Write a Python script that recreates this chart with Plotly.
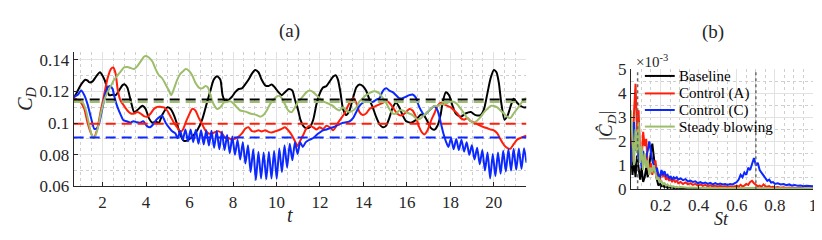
import plotly.graph_objects as go

W, H = 822, 240
def px(x): return x / W
def py(y): return 1 - y / H

# ---------------- Panel (a): drag coefficient time series ----------------
t_base = [0.67,0.80,0.95,1.09,1.20,1.30,1.40,1.54,1.70,1.88,2.00,2.10,2.20,2.30,2.46,2.60,2.75,2.91,3.02,3.14,
          3.30,3.45,3.60,3.83,3.98,4.13,4.29,4.44,4.59,4.74,4.97,5.13,5.28,5.43,5.58,5.73,5.85,6.00,6.12,6.35,
          6.58,6.80,6.96,7.11,7.27,7.42,7.52,7.65,7.80,7.95,8.10,8.26,8.41,8.56,8.71,8.87,9.02,9.17,9.32,9.48,
          9.63,9.78,9.93,10.09,10.24,10.39,10.57,10.73,10.85,11.00,11.10,11.23,11.38,11.53,11.69,11.84,11.99,12.14,12.30,12.45,
          12.60,12.72,12.83,12.94,13.06,13.21,13.36,13.52,13.67,13.82,13.97,14.12,14.28,14.43,14.58,14.74,14.89,15.04,15.19,15.35,
          15.50,15.65,15.80,15.96,16.19,16.34,16.49,16.65,16.80,16.95,17.10,17.26,17.41,17.56,17.64,17.79,17.94,18.10,18.25,18.48,
          18.70,18.94,19.16,19.39,19.55,19.70,19.85,20.00,20.12,20.23,20.34,20.49,20.64,20.80,20.91,21.07,21.22,21.37,21.50]
cd_base = [0.1160,0.1190,0.1230,0.1259,0.1275,0.1270,0.1258,0.1264,0.1295,0.1322,0.1300,0.1270,0.1225,0.1177,0.1180,0.1177,0.1205,0.1239,0.1245,0.1225,
           0.1138,0.1070,0.1083,0.1110,0.1090,0.1032,0.1003,0.1010,0.1003,0.1051,0.1100,0.1090,0.1051,0.0992,0.0925,0.0890,0.0888,0.0900,0.0915,0.0954,
           0.1022,0.1129,0.1206,0.1274,0.1297,0.1274,0.1177,0.1138,0.1148,0.1167,0.1196,0.1216,0.1220,0.1245,0.1274,0.1313,0.1336,0.1322,0.1274,0.1239,
           0.1235,0.1245,0.1225,0.1196,0.1177,0.1196,0.1216,0.1206,0.1148,0.1080,0.1022,0.0983,0.0968,0.0974,0.1022,0.1119,0.1187,0.1225,0.1235,0.1264,
           0.1293,0.1303,0.1274,0.1196,0.1090,0.1051,0.1080,0.1158,0.1225,0.1245,0.1235,0.1206,0.1148,0.1100,0.1041,0.0993,0.0974,0.0983,0.1032,0.1100,
           0.1129,0.1100,0.1051,0.1013,0.1003,0.1013,0.1032,0.1055,0.1045,0.1010,0.0970,0.0958,0.0985,0.1060,0.1129,0.1196,0.1177,0.1109,0.1060,0.1041,
           0.1061,0.1070,0.1051,0.1051,0.1090,0.1187,0.1284,0.1336,0.1322,0.1255,0.1129,0.1022,0.1051,0.1119,0.1154,0.1129,0.1110,0.1100,0.1100]

t_ctrlA = [0.67,0.80,0.95,1.05,1.16,1.31,1.47,1.59,1.74,1.92,2.08,2.23,2.38,2.49,2.60,2.69,2.78,2.84,2.99,3.14,
           3.30,3.45,3.60,3.75,3.90,4.06,4.21,4.36,4.52,4.67,4.82,4.97,5.13,5.28,5.43,5.58,5.70,5.82,5.97,6.12,
           6.27,6.43,6.58,6.73,6.88,7.04,7.19,7.34,7.49,7.65,7.80,7.95,8.10,8.26,8.41,8.56,8.71,8.87,9.02,9.17,
           9.32,9.48,9.63,9.78,9.93,10.09,10.24,10.39,10.54,10.70,10.85,10.97,11.08,11.23,11.38,11.53,11.69,11.84,11.99,12.14,
           12.30,12.45,12.60,12.72,12.83,12.98,13.13,13.29,13.44,13.55,13.67,13.82,13.97,14.12,14.28,14.43,14.58,14.74,14.89,15.04,
           15.19,15.35,15.50,15.65,15.80,15.96,16.11,16.26,16.41,16.55,16.70,16.80,16.95,17.10,17.26,17.41,17.56,17.71,17.87,18.02,
           18.17,18.32,18.48,18.63,18.78,18.94,19.10,19.25,19.40,19.55,19.70,19.85,20.00,20.16,20.31,20.46,20.61,20.76,20.91,21.07,
           21.22,21.37,21.50]
cd_ctrlA = [0.1160,0.1150,0.1140,0.1120,0.1090,0.1003,0.0935,0.0906,0.0955,0.1080,0.1187,0.1284,0.1342,0.1352,0.1313,0.1216,0.1160,0.1138,0.1109,0.1080,
            0.1061,0.1061,0.1070,0.1061,0.1045,0.1041,0.1061,0.1090,0.1103,0.1103,0.1100,0.1080,0.1041,0.1003,0.0974,0.0945,0.0960,0.1003,0.1051,0.1090,
            0.1080,0.1032,0.0993,0.0955,0.0935,0.0935,0.0945,0.0948,0.0935,0.0906,0.0906,0.0896,0.0902,0.0915,0.0935,0.0964,0.0974,0.0950,0.0948,0.0955,
            0.0948,0.0955,0.0945,0.0941,0.0948,0.0955,0.0964,0.0974,0.0955,0.0925,0.0886,0.0855,0.0886,0.0925,0.0968,0.0983,0.0974,0.0960,0.0974,0.0964,
            0.0983,0.0974,0.0955,0.0974,0.1003,0.1032,0.1061,0.1109,0.1148,0.1158,0.1129,0.1070,0.1051,0.1061,0.1090,0.1100,0.1109,0.1119,0.1129,0.1142,
            0.1129,0.1100,0.1070,0.1051,0.1051,0.1070,0.1090,0.1080,0.1041,0.0980,0.0940,0.0929,0.0955,0.1012,0.1061,0.1109,0.1129,0.1119,0.1109,0.1100,
            0.1080,0.1061,0.1032,0.1022,0.1032,0.1012,0.1003,0.0993,0.0983,0.0974,0.0968,0.0960,0.0955,0.0935,0.0896,0.0863,0.0844,0.0838,0.0867,0.0896,
            0.0906,0.0915,0.0920]

t_ctrlC = [0.67,0.86,1.01,1.16,1.31,1.47,1.62,1.74,1.85,2.00,2.11,2.23,2.35,2.46,2.56,2.69,2.84,2.96,3.11,3.27,
           3.42,3.57,3.72,3.87,4.03,4.18,4.33,4.48,4.64,4.74,4.90,5.05,5.20,5.35,
           5.45,5.57,5.69,5.81,5.93,6.05,6.17,6.29,6.41,6.53,6.65,6.77,6.89,7.01,7.13,7.25,7.37,7.49,7.61,7.73,
           7.85,7.97,8.09,8.21,8.33,8.45,8.57,8.69,8.81,8.93,9.05,9.17,9.29,9.41,9.53,9.65,9.77,9.89,10.01,10.13,
           10.25,10.37,10.49,10.61,10.73,10.85,10.97,11.09,11.21,
           11.35,11.53,11.69,11.84,11.99,12.14,12.30,12.45,12.60,12.75,12.90,13.06,13.21,13.36,13.52,13.67,13.82,13.97,14.12,14.28,
           14.43,14.58,14.74,14.86,14.97,15.07,15.19,15.35,15.50,15.65,15.80,15.96,16.11,16.26,16.42,16.49,16.65,16.80,16.95,17.10,
           17.26,17.41,17.56,17.64,17.71,
           17.79,17.91,18.03,18.15,18.27,18.39,18.51,18.63,18.75,18.87,18.99,19.11,19.23,19.35,19.47,19.59,19.71,19.83,19.95,20.07,
           20.19,20.31,20.43,20.55,20.67,20.79,20.91,21.03,21.15,21.27,21.39,21.50]
cd_ctrlC = [0.1167,0.1180,0.1206,0.1177,0.1119,0.1032,0.0964,0.0968,0.1003,0.1100,0.1177,0.1225,0.1235,0.1216,0.1158,0.1100,0.1051,0.1018,0.1012,0.1003,
            0.1012,0.1006,0.1003,0.1012,0.0983,0.0974,0.0993,0.1022,0.1041,0.1047,0.1003,0.0974,0.0949,0.0935,
            0.0905,0.0950,0.0895,0.0960,0.0885,0.0960,0.0880,0.0958,0.0870,0.0955,0.0865,0.0955,0.0858,0.0952,0.0845,0.0950,0.0835,0.0945,0.0830,0.0925,
            0.0810,0.0915,0.0800,0.0895,0.0770,0.0880,0.0745,0.0860,0.0690,0.0835,0.0640,0.0820,0.0650,0.0815,0.0645,0.0820,0.0650,0.0825,0.0648,0.0840,
            0.0690,0.0860,0.0720,0.0870,0.0765,0.0880,0.0805,0.0880,0.0850,
            0.0880,0.0896,0.0906,0.0925,0.0941,0.0955,0.0960,0.0968,0.0974,0.0983,0.0993,0.1003,0.1006,0.1012,0.1032,0.1070,0.1109,0.1129,0.1138,0.1138,
            0.1134,0.1148,0.1158,0.1196,0.1216,0.1220,0.1206,0.1196,0.1177,0.1158,0.1158,0.1167,0.1177,0.1181,0.1160,0.1129,0.1080,0.1051,0.1070,0.1090,
            0.1109,0.1080,0.1003,0.0955,0.0920,
            0.0886,0.0850,0.0905,0.0835,0.0900,0.0830,0.0895,0.0820,0.0880,0.0800,0.0860,0.0770,0.0845,0.0740,0.0830,0.0700,0.0815,0.0650,0.0805,0.0665,
            0.0815,0.0680,0.0825,0.0695,0.0835,0.0700,0.0838,0.0705,0.0840,0.0710,0.0842,0.0750]

t_steady = [0.67,0.86,1.09,1.24,1.39,1.50,1.62,1.77,1.92,2.08,2.23,2.38,2.53,2.69,2.84,2.99,3.14,3.30,3.45,3.60,
            3.75,3.90,4.00,4.13,4.29,4.44,4.59,4.74,4.90,5.05,5.16,5.28,5.43,5.58,5.73,5.82,5.97,6.12,6.27,6.43,
            6.58,6.73,6.85,6.96,7.11,7.27,7.42,7.57,7.72,7.87,8.03,8.18,8.33,8.48,8.64,8.79,8.94,9.09,9.25,9.40,
            9.55,9.70,9.86,10.00,10.12,10.24,10.39,10.54,10.70,10.85,11.00,11.15,11.38,11.53,11.69,11.84,11.99,12.14,12.30,12.45,
            12.60,12.75,12.90,13.06,13.21,13.36,13.52,13.67,13.82,13.97,14.12,14.28,14.43,14.58,14.74,14.89,15.04,15.19,15.35,15.50,
            15.65,15.80,15.96,16.11,16.26,16.49,16.65,16.80,16.95,17.10,17.26,17.41,17.56,17.71,17.87,18.02,18.17,18.32,18.48,18.63,
            18.78,18.94,19.10,19.25,19.40,19.55,19.70,19.85,20.00,20.16,20.31,20.46,20.61,20.76,20.91,21.07,21.22,21.37,21.50]
cd_steady = [0.1148,0.1140,0.1129,0.1080,0.0983,0.0925,0.0906,0.0964,0.1061,0.1148,0.1196,0.1235,0.1274,0.1303,0.1328,0.1352,0.1355,0.1348,0.1342,0.1361,
             0.1390,0.1420,0.1425,0.1415,0.1390,0.1342,0.1303,0.1284,0.1245,0.1206,0.1177,0.1216,0.1274,0.1313,0.1332,0.1342,0.1332,0.1303,0.1255,0.1225,
             0.1220,0.1235,0.1225,0.1177,0.1119,0.1090,0.1100,0.1129,0.1134,0.1138,0.1123,0.1100,0.1080,0.1076,0.1070,0.1061,0.1057,0.1051,0.1041,0.1051,
             0.1080,0.1119,0.1148,0.1167,0.1173,0.1158,0.1119,0.1080,0.1070,0.1100,0.1138,0.1158,0.1196,0.1206,0.1196,0.1177,0.1158,0.1138,0.1129,0.1119,
             0.1109,0.1090,0.1080,0.1100,0.1080,0.1070,0.1080,0.1100,0.1138,0.1158,0.1177,0.1190,0.1200,0.1200,0.1187,0.1158,0.1129,0.1090,0.1061,0.1061,
             0.1080,0.1080,0.1070,0.1061,0.1051,0.1022,0.1032,0.1051,0.1070,0.1090,0.1109,0.1109,0.1119,0.1119,0.1129,0.1138,0.1134,0.1119,0.1090,0.1061,
             0.1032,0.1012,0.1003,0.1018,0.1041,0.1070,0.1090,0.1109,0.1109,0.1100,0.1080,0.1061,0.1041,0.1032,0.1061,0.1090,0.1119,0.1148,0.1160]

# time-averaged values (dashed lines)
mean_names = ["Baseline", "Control (A)", "Control (C)", "Steady blowing"]
mean_cd = [0.1150, 0.0996, 0.0910, 0.1134]
t_span = [0.67, 21.5]

# ---------------- Panel (b): spectra (values in units of 1e-3) ----------------
St = [0.045,0.053,0.061,0.069,0.077,0.085,0.093,0.101,0.109,0.117,0.125,0.133,0.141,0.149,0.157,0.165,0.173,0.181,0.189,0.197,
      0.205,0.213,0.221,0.229,0.237,0.245,0.253,0.261,0.269,0.277,0.285,0.293,
      0.305,0.318,0.331,0.344,0.357,0.370,0.383,0.396,0.409,0.422,0.435,0.448,0.461,0.474,0.487,0.500,0.513,0.526,0.539,0.552,0.565,0.578,0.591,
      0.600,0.610,0.620,0.630,0.640,0.650,0.660,0.670,0.680,0.690,0.700,0.710,0.720,0.730,0.740,0.750,0.760,0.770,0.780,0.790,0.800,
      0.815,0.830,0.845,0.860,0.875,0.890,0.905,0.920,0.935,0.950,0.965,0.980,1.000]
amp_base = [1.6,0.6,1.2,0.5,1.4,0.8,0.4,0.9,0.3,0.5,0.9,0.5,1.1,1.5,1.9,1.3,0.8,0.4,0.15,0.25,
            0.1,0.2,0.08,0.15,0.05,0.1,0.06,0.09,0.04,0.07,0.05,0.04,
            0.05,0.03,0.04,0.03,0.04,0.02,0.03,0.03,0.02,0.03,0.02,0.03,0.02,0.02,0.03,0.02,0.02,0.03,0.02,0.02,0.02,0.03,0.02,
            0.02,0.03,0.02,0.02,0.03,0.02,0.03,0.02,0.04,0.03,0.02,0.02,0.03,0.02,0.02,0.02,0.02,0.02,0.01,0.02,0.02,
            0.02,0.01,0.02,0.01,0.02,0.01,0.01,0.02,0.01,0.01,0.01,0.01,0.01]
amp_ctrlA = [2.6,1.2,3.2,4.4,2.4,3.3,1.5,1.2,2.4,1.8,2.1,1.0,0.7,1.1,0.6,0.9,1.2,0.7,0.5,0.4,
             0.75,0.55,0.6,0.4,0.5,0.35,0.45,0.3,0.42,0.3,0.35,0.25,
             0.3,0.22,0.28,0.2,0.25,0.18,0.22,0.15,0.2,0.14,0.18,0.12,0.16,0.12,0.15,0.1,0.14,0.1,0.13,0.09,0.12,0.1,0.12,
             0.15,0.1,0.18,0.12,0.15,0.22,0.18,0.3,0.35,0.25,0.18,0.12,0.15,0.1,0.2,0.12,0.1,0.13,0.08,0.1,0.07,
             0.09,0.06,0.08,0.05,0.07,0.05,0.06,0.04,0.05,0.04,0.05,0.03,0.04]
amp_ctrlC = [1.0,1.8,2.8,1.6,2.2,1.2,1.5,0.9,1.6,1.1,1.3,1.6,2.0,1.5,1.2,1.0,0.7,0.9,0.6,0.5,
             0.8,0.6,0.75,0.55,0.6,0.45,0.55,0.4,0.5,0.45,0.5,0.4,
             0.45,0.38,0.42,0.32,0.36,0.3,0.33,0.25,0.3,0.24,0.28,0.22,0.26,0.2,0.25,0.2,0.24,0.2,0.22,0.18,0.22,0.2,0.25,
             0.3,0.4,0.6,0.5,0.7,0.6,0.9,0.8,1.1,1.3,1.0,1.1,0.8,0.7,0.55,0.5,0.35,0.4,0.28,0.3,0.22,
             0.25,0.2,0.22,0.17,0.2,0.15,0.17,0.14,0.15,0.12,0.14,0.12,0.12]
amp_steady = [3.3,2.2,1.0,2.5,1.5,2.8,1.1,1.8,0.8,1.5,0.9,1.2,0.6,0.9,0.7,1.0,0.6,0.4,0.5,0.3,
              0.35,0.2,0.25,0.15,0.2,0.12,0.15,0.1,0.12,0.08,0.1,0.07,
              0.09,0.07,0.08,0.06,0.07,0.06,0.07,0.05,0.06,0.05,0.06,0.05,0.05,0.04,0.05,0.04,0.05,0.04,0.04,0.04,0.05,0.04,0.04,
              0.05,0.04,0.05,0.04,0.05,0.04,0.05,0.06,0.05,0.06,0.05,0.04,0.05,0.04,0.04,0.05,0.04,0.04,0.04,0.03,0.04,
              0.04,0.03,0.04,0.03,0.03,0.04,0.03,0.03,0.03,0.03,0.03,0.02,0.03]
St_marks = [0.08, 0.70]

colors = ["#000000", "#ff1e0a", "#0a28ff", "#9cbd6a"]
series_t = [t_base, t_ctrlA, t_ctrlC, t_steady]
series_cd = [cd_base, cd_ctrlA, cd_ctrlC, cd_steady]
series_amp = [amp_base, amp_ctrlA, amp_ctrlC, amp_steady]

fig = go.Figure()
for i in range(4):
    fig.add_trace(go.Scatter(x=series_t[i], y=series_cd[i], mode="lines", name=mean_names[i],
                             line=dict(color=colors[i], width=2, shape="spline", smoothing=0.6),
                             xaxis="x", yaxis="y", hoverinfo="skip"))
for i in range(4):
    fig.add_trace(go.Scatter(x=t_span, y=[mean_cd[i], mean_cd[i]], mode="lines",
                             line=dict(color=colors[i], width=2, dash="10px,6px"),
                             xaxis="x", yaxis="y", hoverinfo="skip"))
for i in range(4):
    fig.add_trace(go.Scatter(x=St, y=series_amp[i], mode="lines", name=mean_names[i],
                             line=dict(color=colors[i], width=2),
                             xaxis="x2", yaxis="y2", hoverinfo="skip"))
for s in St_marks:
    fig.add_trace(go.Scatter(x=[s, s], y=[0, 5], mode="lines",
                             line=dict(color="#666666", width=1.5, dash="dot"),
                             xaxis="x2", yaxis="y2", hoverinfo="skip"))

FONT = "Liberation Serif"
TXT = "#262626"
def axis_style(**kw):
    d = dict(showline=True, linecolor=TXT, linewidth=1, ticks="inside", ticklen=4, tickcolor=TXT,
             showgrid=True, gridcolor="#e2e2e2", gridwidth=1, zeroline=False,
             tickfont=dict(family=FONT, size=17, color=TXT))
    d.update(kw)
    return d

fig.update_layout(
    width=W, height=H, margin=dict(l=0, r=0, t=0, b=0),
    paper_bgcolor="white", plot_bgcolor="white", showlegend=False,
    font=dict(family=FONT, size=16, color=TXT),
    xaxis=axis_style(domain=[px(66), px(521)], range=[0.67, 21.5], dtick=2, tick0=0, anchor="y",
                     minor=dict(dtick=0.5, showgrid=True, griddash="dot", gridcolor="#cfcfcf")),
    yaxis=axis_style(domain=[py(184), py(38)], range=[0.06, 0.145], tickvals=[0.06, 0.08, 0.1, 0.12, 0.14],
                     anchor="x", minor=dict(dtick=0.01, tick0=0, showgrid=True, griddash="dot", gridcolor="#cfcfcf")),
    xaxis2=axis_style(domain=[px(626), px(809)], range=[0.045, 1.0], tickvals=[0.2, 0.4, 0.6, 0.8, 1],
                      ticktext=["0.2", "0.4", "0.6", "0.8", "1"], anchor="y2",
                      minor=dict(dtick=0.05, tick0=0, showgrid=True, griddash="dot", gridcolor="#cfcfcf")),
    yaxis2=axis_style(domain=[py(187), py(57)], range=[0, 5], dtick=1, anchor="x2",
                      minor=dict(dtick=0.5, tick0=0, showgrid=True, griddash="dot", gridcolor="#cfcfcf")),
)

# legend for panel (b), drawn as sample lines + text
leg_rows = [64, 83, 101, 119]
for i in range(4):
    fig.add_shape(type="line", xref="paper", yref="paper", x0=px(640), x1=px(670),
                  y0=py(leg_rows[i]), y1=py(leg_rows[i]), line=dict(color=colors[i], width=2))
    fig.add_annotation(x=px(672), y=py(leg_rows[i]), xref="paper", yref="paper", text=mean_names[i],
                       showarrow=False, xanchor="left", yanchor="middle",
                       font=dict(family=FONT, size=15, color="#000"))

ann = [
    dict(x=px(283), y=py(15), text="(a)", size=19),
    dict(x=px(708), y=py(16), text="(b)", size=19),
    dict(x=px(283), y=py(215), text="<i>t</i>", size=20),
    dict(x=px(717), y=py(219), text="<i>St</i>", size=18),
    dict(x=px(647), y=py(48), text="×10<sup>-3</sup>", size=15),
]
for a in ann:
    fig.add_annotation(x=a["x"], y=a["y"], xref="paper", yref="paper", text=a["text"], showarrow=False,
                       font=dict(family=FONT, size=a["size"], color=TXT), xanchor="center", yanchor="middle")
fig.add_annotation(x=px(19), y=py(89), xref="paper", yref="paper", text="<i>C<sub>D</sub></i>", showarrow=False,
                   textangle=-90, font=dict(family=FONT, size=20, color=TXT), xanchor="center", yanchor="middle")
fig.add_annotation(x=px(602), y=py(118), xref="paper", yref="paper", text="|<i>Ĉ<sub>D</sub></i>|", showarrow=False,
                   textangle=-90, font=dict(family=FONT, size=19, color=TXT), xanchor="center", yanchor="middle")

fig.write_html("out.html")
